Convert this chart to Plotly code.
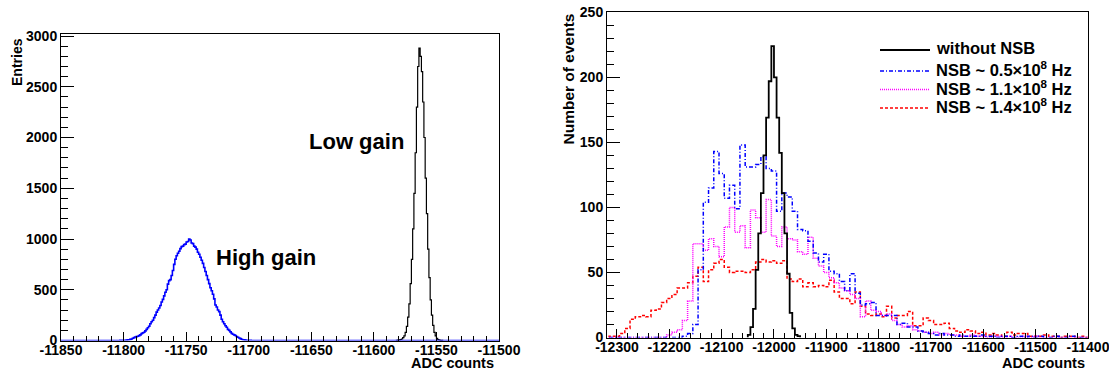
import plotly.graph_objects as go

W, H = 1109, 371
FONT = "Liberation Sans"

# ---------------- data: left panel (ADC counts, 1-count bins) ----------------
hg_start = -11850          # "High gain" histogram
hg_width = 1
hg_counts = [0] * 45 + [
    0, 0, 1, 1, 2, 2, 3, 4, 6, 8, 11, 15, 22, 28, 35, 38, 42, 48, 55, 68,
    75, 82, 95, 110, 125, 140, 165, 185, 200, 225, 250, 280, 300, 320, 345, 380,
    405, 440, 475, 500, 555, 590, 600, 640, 690, 750, 800, 835, 860, 880, 905,
    925, 930, 945, 950, 970, 975, 1000, 990, 960, 955, 930, 920, 900, 870, 850,
    820, 790, 760, 720, 680, 640, 600, 560, 520, 490, 455, 410, 350, 330, 300,
    285, 250, 210, 185, 165, 145, 130, 110, 100, 85, 70, 62, 55, 50, 40, 32,
    25, 18, 12, 8, 6, 4, 3, 2, 1, 1, 0] + [0] * 197

lg_start = -11582          # "Low gain" histogram
lg_width = 1
lg_counts = [2, 3, 6, 10, 15, 28, 45, 80, 140, 230, 360, 560, 800, 1100, 1450,
             1850, 2300, 2700, 2880, 2800, 2650, 2350, 2000, 1600, 1250, 900,
             620, 400, 250, 150, 80, 45, 22, 10, 5, 2, 1]

left_xticks = [-11850, -11800, -11750, -11700, -11650, -11600, -11550, -11500]
left_xlabels = ["-11850", "-11800", "-11750", "-11700", "-11650", "-11600", "-11550", "-11500"]
left_yticks = [0, 500, 1000, 1500, 2000, 2500, 3000]

# ---------------- data: right panel ----------------
nsb_start = -12315
nsb_width = 10
nsb05 = [0, 0, 0, 0, 0, 0, 0, 0, 0, 0, 0, 0, 0, 0, 1, 3, 10, 52, 104, 115,
         143, 126, 107, 117, 99, 148, 131, 131, 133, 139, 130, 128, 97, 111, 108, 97,
         83, 82, 74, 65, 58, 64, 51, 49, 43, 36, 49, 34, 25, 26, 27, 17, 17, 17, 17,
         10, 11, 8, 8, 5, 4, 3, 2, 3, 2, 2, 1, 2, 1, 1, 1, 2, 1, 1, 0, 1, 1, 0, 1, 0,
         1, 0, 1, 0, 0, 1, 0, 0, 1, 0, 0, 0]
nsb11 = [0, 0, 0, 0, 0, 0, 0, 0, 0, 0, 0, 2, 4, 6, 13, 28, 72, 72, 67, 76,
         70, 62, 85, 100, 81, 86, 69, 98, 92, 81, 106, 78, 70, 85, 76, 75, 66, 64, 77,
         61, 55, 50, 46, 42, 38, 36, 33, 30, 16, 28, 21, 20, 17, 18, 13, 10, 8, 9, 6,
         5, 4, 3, 4, 2, 3, 2, 2, 1, 1, 2, 1, 1, 0, 1, 1, 0, 1, 0, 0, 1, 0, 1, 0, 0,
         0, 0, 0, 0, 0, 0, 0, 0]
nsb14 = [1, 1, 3, 7, 14, 16, 17, 16, 21, 22, 27, 30, 33, 38, 38, 42, 47, 54, 43, 52,
         57, 60, 54, 50, 51, 51, 50, 52, 58, 60, 58, 59, 57, 59, 45, 43, 45, 39, 42,
         39, 40, 39, 44, 35, 30, 30, 26, 35, 24, 18, 17, 18, 16, 24, 15, 17, 17, 20,
         9, 9, 15, 13, 10, 10, 11, 7, 5, 4, 6, 5, 3, 4, 2, 3, 2, 1, 4, 2, 3, 3, 1, 1,
         1, 2, 1, 1, 0, 1, 1, 0, 1, 0]

nonsb_start = -12050
nonsb_width = 5
nonsb = [2, 8, 22, 52, 80, 111, 140, 169, 197, 224, 200, 169, 142, 111, 80, 49,
         19, 7, 2, 1]

right_xticks = [-12300, -12200, -12100, -12000, -11900, -11800, -11700, -11600, -11500, -11400]
right_xlabels = ["-12300", "-12200", "-12100", "-12000", "-11900", "-11800", "-11700",
                 "-11600", "-11500", "-11400"]
right_yticks = [0, 50, 100, 150, 200, 250]

legend_labels = ["without NSB",
                 "NSB ~ 0.5\u00d710<sup>8</sup> Hz",
                 "NSB ~ 1.1\u00d710<sup>8</sup> Hz",
                 "NSB ~ 1.4\u00d710<sup>8</sup> Hz"]


def step(start, width, counts):
    xs, ys = [start], [0]
    for i, c in enumerate(counts):
        xs.append(start + i * width)
        ys.append(c)
    xs.append(start + len(counts) * width)
    ys.append(0)
    return xs, ys


fig = go.Figure()

x, y = step(lg_start, lg_width, lg_counts)
fig.add_trace(go.Scatter(x=x, y=y, mode="lines", xaxis="x", yaxis="y",
                         line=dict(color="black", width=1.2, shape="hv"), showlegend=False))
x, y = step(hg_start, hg_width, hg_counts)
fig.add_trace(go.Scatter(x=x, y=y, mode="lines", xaxis="x", yaxis="y",
                         line=dict(color="#0000ff", width=1.6, shape="hv"), showlegend=False))

styles = [
    (nsb14, "#ff0000", "3px,2px"),
    (nsb11, "#ff00ff", "1px,1px"),
    (nsb05, "#0000ff", "4px,2px,1px,2px"),
]
for counts, col, dash in styles:
    x, y = step(nsb_start, nsb_width, counts)
    fig.add_trace(go.Scatter(x=x, y=y, mode="lines", xaxis="x2", yaxis="y2",
                             line=dict(color=col, width=1.5, dash=dash, shape="hv"),
                             showlegend=False))
x, y = step(nonsb_start, nonsb_width, nonsb)
fig.add_trace(go.Scatter(x=x, y=y, mode="lines", xaxis="x2", yaxis="y2",
                         line=dict(color="black", width=1.8, shape="hv"), showlegend=False))

tickfont = dict(family=FONT, size=14, color="black", weight="bold")
common = dict(showline=True, linecolor="black", linewidth=1, mirror=True,
              ticks="inside", tickcolor="black", tickwidth=1, showgrid=False,
              zeroline=False, tickfont=tickfont, automargin=False,
              ticklabeloverflow="allow")


def px(xp):
    return xp / W


def py(yp):
    return 1 - yp / H


fig.update_layout(
    template="none",
    width=W, height=H, margin=dict(l=0, r=0, t=0, b=0, pad=0), autosize=False,
    paper_bgcolor="white", plot_bgcolor="white", showlegend=False,
    xaxis=dict(domain=[px(61), px(499)], range=[-11850, -11500], anchor="y",
               tickmode="array", tickvals=left_xticks, ticktext=left_xlabels, ticklen=9,
               ticklabelstandoff=-3,
               minor=dict(ticks="inside", tickmode="array",
                          tickvals=list(range(-11850, -11499, 10)),
                          ticklen=5, tickcolor="black", tickwidth=1),
               **common),
    yaxis=dict(domain=[py(340.5), py(34)], range=[0, 3020], anchor="x",
               tickmode="array", tickvals=left_yticks, ticktext=[str(v) for v in left_yticks],
               ticklen=13,
               minor=dict(ticks="inside", tickmode="array",
                          tickvals=list(range(0, 3001, 100)),
                          ticklen=7, tickcolor="black", tickwidth=1),
               **common),
    xaxis2=dict(domain=[px(607), px(1088)], range=[-12319, -11400], anchor="y2",
                tickmode="array", tickvals=right_xticks, ticktext=right_xlabels, ticklen=9,
                ticklabelstandoff=-3,
                minor=dict(ticks="inside", tickmode="array",
                           tickvals=list(range(-12300, -11399, 20)),
                           ticklen=5, tickcolor="black", tickwidth=1),
                **common),
    yaxis2=dict(domain=[py(337.5), py(12.3)], range=[0, 250], anchor="x2",
                tickmode="array", tickvals=right_yticks, ticktext=[str(v) for v in right_yticks],
                ticklen=13,
                minor=dict(ticks="inside", tickmode="array",
                           tickvals=list(range(0, 251, 10)),
                           ticklen=7, tickcolor="black", tickwidth=1),
                **common),
)


def label(text, x, y, size, xanchor="center", yanchor="middle", angle=0):
    fig.add_annotation(text=text, x=px(x), y=py(y), xref="paper", yref="paper",
                       xanchor=xanchor, yanchor=yanchor, showarrow=False, textangle=angle,
                       font=dict(family=FONT, size=size, color="black", weight="bold"))


# axis titles
label("Entries", 17, 36, 14, yanchor="top", angle=-90)
label("ADC counts", 496, 362.5, 14.5, xanchor="right")
label("Number of events", 568, 12, 15.5, yanchor="top", angle=-90)
label("ADC counts", 1087, 362.5, 14.5, xanchor="right")

# in-plot annotations
label("Low gain", 356, 141.5, 22)
label("High gain", 266, 257.5, 22)

# legend (right panel)
leg_y = [48, 69, 87.5, 106]
leg_styles = [("black", "solid", 1.8), ("#0000ff", "4px,2px,1px,2px", 1.5),
              ("#ff00ff", "1px,1px", 1.5), ("#ff0000", "3px,2px", 1.5)]
for text, yy, (col, dash, lw) in zip(legend_labels, leg_y, leg_styles):
    fig.add_shape(type="line", xref="paper", yref="paper", x0=px(880), x1=px(930),
                  y0=py(yy + 2), y1=py(yy + 2), line=dict(color=col, dash=dash, width=lw))
    label(text, 934, yy, 16.5, xanchor="left")

fig.write_html("out.html")
